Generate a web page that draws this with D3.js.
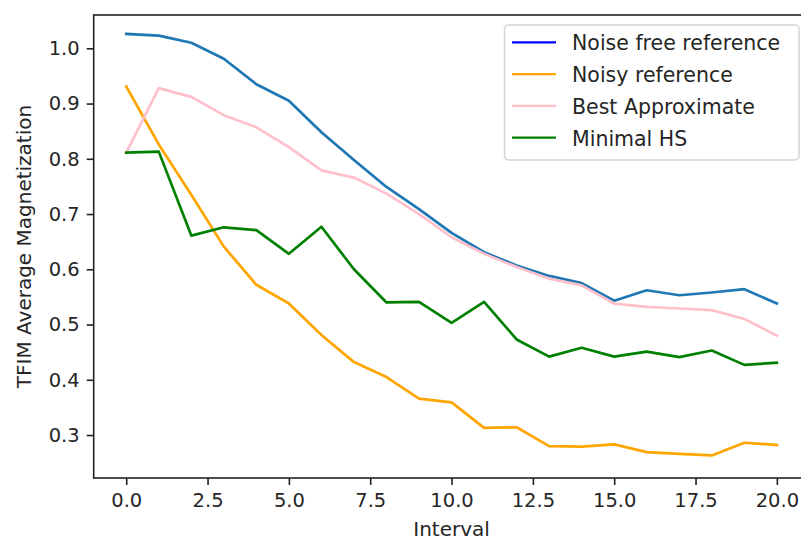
<!DOCTYPE html>
<html>
<head>
<meta charset="utf-8">
<script src="https://cdn.jsdelivr.net/npm/d3@7"></script>
<style>
  html, body { margin: 0; padding: 0; background: #fff; }
  svg { display: block; font-family: "DejaVu Sans", sans-serif; }
</style>
</head>
<body>
<svg id="chart" width="801" height="540"></svg>
<script>
// ---- data ----
const intervals = [0,1,2,3,4,5,6,7,8,9,10,11,12,13,14,15,16,17,18,19,20];
const noiseFree = [1.026, 1.023, 1.010, 0.981, 0.935, 0.905, 0.848, 0.798, 0.749, 0.709, 0.666, 0.631, 0.607, 0.588, 0.575, 0.543, 0.562, 0.553, 0.558, 0.564, 0.538];
const noisy     = [0.931, 0.826, 0.735, 0.641, 0.572, 0.538, 0.481, 0.432, 0.405, 0.366, 0.359, 0.313, 0.314, 0.280, 0.279, 0.283, 0.269, 0.266, 0.263, 0.286, 0.282];
const bestApprox= [0.811, 0.928, 0.912, 0.879, 0.857, 0.821, 0.779, 0.766, 0.737, 0.700, 0.658, 0.628, 0.604, 0.583, 0.571, 0.538, 0.532, 0.529, 0.526, 0.510, 0.480];
const minimalHS = [0.811, 0.813, 0.661, 0.676, 0.671, 0.628, 0.677, 0.600, 0.540, 0.541, 0.503, 0.541, 0.473, 0.442, 0.458, 0.442, 0.451, 0.441, 0.453, 0.427, 0.431];
const xTicks = [0, 2.5, 5, 7.5, 10, 12.5, 15, 17.5, 20];
const yTicks = [0.3, 0.4, 0.5, 0.6, 0.7, 0.8, 0.9, 1.0];
const seriesNames = ["Noise free reference", "Noisy reference", "Best Approximate", "Minimal HS"];
const lineColors = ["#1f77b4", "orange", "pink", "green"];
const legendColors = ["blue", "orange", "pink", "green"];
const xLabel = "Interval";
const yLabel = "TFIM Average Magnetization";

// ---- layout ----
const svg = d3.select("#chart");
const plot = { left: 93.7, right: 809.4, top: 15, bottom: 478 };
const x = d3.scaleLinear().domain([-1, 21]).range([plot.left, plot.right]);
const y = d3.scaleLinear().domain([0.2222, 1.0603]).range([plot.bottom, plot.top]);
const fmt = d3.format(".1f");
const textColor = "#262626";
const tickFont = 19.5;

// lines
const allSeries = [noiseFree, noisy, bestApprox, minimalHS];
const line = d3.line().x(d => x(d[0])).y(d => y(d[1]));
allSeries.forEach((vals, i) => {
  svg.append("path")
    .datum(intervals.map((t, j) => [t, vals[j]]))
    .attr("fill", "none")
    .attr("stroke", lineColors[i])
    .attr("stroke-width", 2.7)
    .attr("stroke-linejoin", "round")
    .attr("stroke-linecap", "square")
    .attr("d", line);
});

// axes
const xAxis = svg.append("g")
  .attr("transform", `translate(0,${plot.bottom})`)
  .call(d3.axisBottom(x).tickValues(xTicks).tickFormat(fmt).tickSizeOuter(0).tickSize(7).tickPadding(8));
const yAxis = svg.append("g")
  .attr("transform", `translate(${plot.left},0)`)
  .call(d3.axisLeft(y).tickValues(yTicks).tickFormat(fmt).tickSizeOuter(0).tickSize(7).tickPadding(7));
[xAxis, yAxis].forEach(g => {
  g.select(".domain").remove();
  g.selectAll(".tick line").attr("stroke", "#222").attr("stroke-width", 1.6);
  g.selectAll(".tick text").attr("fill", textColor)
    .style("font-size", tickFont + "px").style("font-family", "DejaVu Sans");
});

// spines
svg.append("rect")
  .attr("x", plot.left).attr("y", plot.top)
  .attr("width", plot.right - plot.left).attr("height", plot.bottom - plot.top)
  .attr("fill", "none").attr("stroke", "#222").attr("stroke-width", 1.6);

// axis labels
svg.append("text")
  .attr("x", (plot.left + plot.right) / 2).attr("y", 535.5)
  .attr("text-anchor", "middle").attr("fill", textColor)
  .style("font-size", "20px").text(xLabel);
svg.append("text")
  .attr("transform", `translate(30.5,${(plot.top + plot.bottom) / 2}) rotate(-90)`)
  .attr("text-anchor", "middle").attr("fill", textColor)
  .style("font-size", "20px").text(yLabel);

// legend
const lg = svg.append("g");
lg.append("rect")
  .attr("x", 504.5).attr("y", 25).attr("width", 294.5).attr("height", 135)
  .attr("rx", 4).attr("ry", 4)
  .attr("fill", "rgba(255,255,255,0.8)").attr("stroke", "#d4d4d4").attr("stroke-width", 1.5);
seriesNames.forEach((name, i) => {
  const cy = 42.3 + i * 31.8;
  lg.append("line")
    .attr("x1", 512).attr("x2", 556).attr("y1", cy).attr("y2", cy)
    .attr("stroke", legendColors[i]).attr("stroke-width", 2.2);
  lg.append("text")
    .attr("x", 572).attr("y", cy + 8)
    .attr("fill", textColor).style("font-size", "20.5px").text(name);
});
</script>
</body>
</html>
